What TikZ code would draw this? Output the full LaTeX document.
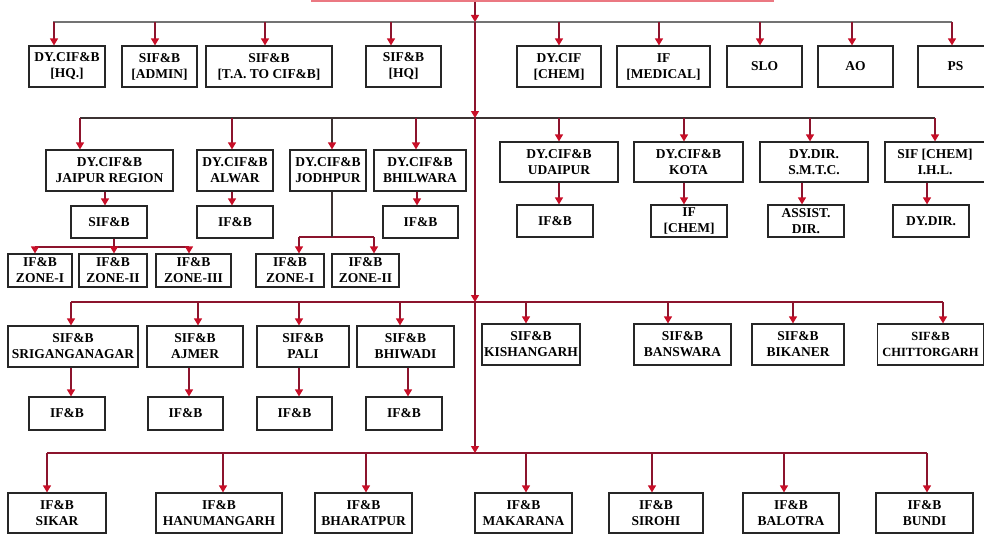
\documentclass[tikz,border=0pt]{standalone}
\usepackage{fontspec}
\setmainfont{Liberation Serif}
\usetikzlibrary{arrows.meta}
\definecolor{lnred}{RGB}{140,20,45}
\definecolor{tipred}{RGB}{200,15,40}
\definecolor{busgray}{RGB}{115,115,115}
\definecolor{busdark}{RGB}{60,50,50}
\definecolor{topred}{RGB}{235,120,130}
\tikzset{
  box/.style={draw=black!85, line width=1.2pt, fill=white, align=center, inner sep=1.5pt,
    font=\fontsize{13.5}{16}\selectfont\bfseries},
  link/.style={draw=lnred, line width=1.3pt},
  arr/.style={link, -{Triangle[width=8pt,length=7pt,color=tipred]}},
  darr/.style={draw=busdark, line width=1.3pt, -{Triangle[width=8pt,length=7pt,color=tipred]}},
  grayline/.style={draw=busgray, line width=1.3pt},
  darkline/.style={draw=busdark, line width=1.3pt},
}
\newcommand\obox[6]{\node[box,minimum width=#4pt,minimum height=#5pt] (#1) at (#2,#3) {#6};}
\newcommand\dropto[3]{\coordinate (#1j) at (#2,#3); \draw[arr] (#1j) -- (#1j |- #1.north);}
\newcommand\kid[3]{\coordinate (kx) at (#3,0); \draw[arr] (kx |- #1.south) -- (kx |- #2.north);}
\begin{document}
\begin{tikzpicture}[x=1pt,y=-1pt]
\useasboundingbox (0,0) rectangle (984,535);
\fill[white] (0,0) rectangle (984,535);

% top (cropped) box
\node[draw=topred, line width=1.2pt, minimum width=461pt, minimum height=42pt] (top) at (542.5,-20) {};

% spine
\coordinate (s1) at (475,22);
\coordinate (s2) at (475,118);
\coordinate (s3) at (475,302);
\coordinate (s4) at (475,453);

% ---------------- Row 1 ----------------
\obox{r1a}{67}{66.5}{76}{41}{DY.CIF\&B\\{[}HQ.{]}}
\obox{r1b}{159.5}{66.5}{75}{41}{SIF\&B\\{[}ADMIN{]}}
\obox{r1c}{269}{66.5}{126}{41}{SIF\&B\\{[}T.A. TO CIF\&B{]}}
\obox{r1d}{403.5}{66.5}{75}{41}{SIF\&B\\{[}HQ{]}}
\obox{r1e}{559}{66.5}{84}{41}{DY.CIF\\{[}CHEM{]}}
\obox{r1f}{663.5}{66.5}{93}{41}{IF\\{[}MEDICAL{]}}
\obox{r1g}{764.5}{66.5}{75}{41}{SLO}
\obox{r1h}{855.5}{66.5}{75}{41}{AO}
\obox{r1i}{955.5}{66.5}{75}{41}{PS}
\coordinate (b1l) at (53,22);
\coordinate (b1r) at (952,22);
\draw[grayline] (b1l) -- (b1r);
\dropto{r1a}{54}{22}
\dropto{r1b}{155}{22}
\dropto{r1c}{265}{22}
\dropto{r1d}{391}{22}
\dropto{r1e}{559}{22}
\dropto{r1f}{659}{22}
\dropto{r1g}{760}{22}
\dropto{r1h}{852}{22}
\dropto{r1i}{952}{22}

% ---------------- Row 2 ----------------
\obox{r2a}{109.5}{170.5}{127}{41}{DY.CIF\&B\\JAIPUR REGION}
\obox{r2b}{235}{170.5}{76}{41}{DY.CIF\&B\\ALWAR}
\obox{r2c}{328}{170.5}{76}{41}{DY.CIF\&B\\JODHPUR}
\obox{r2d}{420}{170.5}{92}{41}{DY.CIF\&B\\BHILWARA}
\obox{r2e}{559}{162}{118}{40}{DY.CIF\&B\\UDAIPUR}
\obox{r2f}{688.5}{162}{109}{40}{DY.CIF\&B\\KOTA}
\obox{r2g}{814}{162}{108}{40}{DY.DIR.\\S.M.T.C.}
\obox{r2h}{935}{162}{100}{40}{SIF {[}CHEM{]}\\I.H.L.}
\coordinate (b2l) at (80,118);
\coordinate (b2r) at (935,118);
\draw[darkline] (b2l) -- (b2r);
\dropto{r2a}{80}{118}
\dropto{r2b}{232}{118}
\coordinate (r2cj) at (332,118); \draw[darr] (r2cj) -- (r2cj |- r2c.north);
\dropto{r2d}{416}{118}
\dropto{r2e}{559}{118}
\dropto{r2f}{684}{118}
\dropto{r2g}{810}{118}
\dropto{r2h}{935}{118}

% children of row 2
\obox{c2a}{109}{222}{76}{32}{SIF\&B}
\obox{c2b}{235}{222}{76}{32}{IF\&B}
\obox{c2d}{420.5}{222}{75}{32}{IF\&B}
\obox{c2e}{555}{221}{76}{32}{IF\&B}
\obox{c2f}{689}{221}{76}{32}{IF\\{[}CHEM{]}}
\obox{c2g}{806}{221}{76}{32}{ASSIST.\\DIR.}
\obox{c2h}{931}{221}{76}{32}{DY.DIR.}
\kid{r2a}{c2a}{105}
\kid{r2b}{c2b}{232}
\kid{r2d}{c2d}{417}
\kid{r2e}{c2e}{559}
\kid{r2f}{c2f}{684}
\kid{r2g}{c2g}{802}
\kid{r2h}{c2h}{927}

% zones under Jaipur SIF&B
\obox{z1}{40}{270.5}{64}{33}{IF\&B\\ZONE-I}
\obox{z2}{113}{270.5}{68}{33}{IF\&B\\ZONE-II}
\obox{z3}{193.5}{270.5}{75}{33}{IF\&B\\ZONE-III}
\coordinate (zb1) at (35,247);
\coordinate (zb3) at (189,247);
\draw[link] (zb1) -- (zb3);
\draw[arr] (zb1) -- (zb1 |- z1.north);
\draw[arr] (zb3) -- (zb3 |- z3.north);
\kid{c2a}{z2}{114}

% zones under Jodhpur
\obox{jz1}{290}{270.5}{68}{33}{IF\&B\\ZONE-I}
\obox{jz2}{365.5}{270.5}{67}{33}{IF\&B\\ZONE-II}
\coordinate (jb1) at (299,237);
\coordinate (jb2) at (374,237);
\coordinate (jbm) at (332,237);
\draw[link] (jb1) -- (jb2);
\draw[darkline] (jbm |- r2c.south) -- (jbm);
\draw[arr] (jb1) -- (jb1 |- jz1.north);
\draw[arr] (jb2) -- (jb2 |- jz2.north);

% ---------------- Row 3 ----------------
\obox{r3a}{73}{346.5}{130}{41}{SIF\&B\\SRIGANGANAGAR}
\obox{r3b}{195}{346.5}{96}{41}{SIF\&B\\AJMER}
\obox{r3c}{303}{346.5}{92}{41}{SIF\&B\\PALI}
\obox{r3d}{405.5}{346.5}{97}{41}{SIF\&B\\BHIWADI}
\obox{r3e}{531}{344.5}{98}{41}{SIF\&B\\KISHANGARH}
\obox{r3f}{682.5}{344.5}{97}{41}{SIF\&B\\BANSWARA}
\obox{r3g}{798}{344.5}{92}{41}{SIF\&B\\BIKANER}
\node[box, minimum width=106pt, minimum height=41pt, inner sep=0.5pt,
  font=\fontsize{12.5}{16}\selectfont\bfseries] (r3h) at (930.5,344.5) {SIF\&B\\CHITTORGARH};
\coordinate (b3l) at (71,302);
\coordinate (b3r) at (943,302);
\draw[link] (b3l) -- (b3r);
\dropto{r3a}{71}{302}
\dropto{r3b}{198}{302}
\dropto{r3c}{299}{302}
\dropto{r3d}{400}{302}
\dropto{r3e}{526}{302}
\dropto{r3f}{668}{302}
\dropto{r3g}{793}{302}
\dropto{r3h}{943}{302}

\obox{c3a}{67}{413.5}{76}{33}{IF\&B}
\obox{c3b}{185.5}{413.5}{75}{33}{IF\&B}
\obox{c3c}{294.5}{413.5}{75}{33}{IF\&B}
\obox{c3d}{404}{413.5}{76}{33}{IF\&B}
\kid{r3a}{c3a}{71}
\kid{r3b}{c3b}{189}
\kid{r3c}{c3c}{299}
\kid{r3d}{c3d}{408}

% ---------------- Row 4 ----------------
\obox{r4a}{57}{513}{98}{40}{IF\&B\\SIKAR}
\obox{r4b}{219}{513}{126}{40}{IF\&B\\HANUMANGARH}
\obox{r4c}{363.5}{513}{97}{40}{IF\&B\\BHARATPUR}
\obox{r4d}{523.5}{513}{97}{40}{IF\&B\\MAKARANA}
\obox{r4e}{656}{513}{94}{40}{IF\&B\\SIROHI}
\obox{r4f}{791}{513}{96}{40}{IF\&B\\BALOTRA}
\obox{r4g}{924.5}{513}{97}{40}{IF\&B\\BUNDI}
\coordinate (b4l) at (47,453);
\coordinate (b4r) at (927,453);
\draw[link] (b4l) -- (b4r);
\dropto{r4a}{47}{453}
\dropto{r4b}{223}{453}
\dropto{r4c}{366}{453}
\dropto{r4d}{526}{453}
\dropto{r4e}{652}{453}
\dropto{r4f}{784}{453}
\dropto{r4g}{927}{453}

% spine segments
\draw[arr] (s1 |- top.south) -- (s1);
\draw[arr] (s1) -- (s2);
\draw[arr] (s2) -- (s3);
\draw[arr] (s3) -- (s4);
\end{tikzpicture}
\end{document}
